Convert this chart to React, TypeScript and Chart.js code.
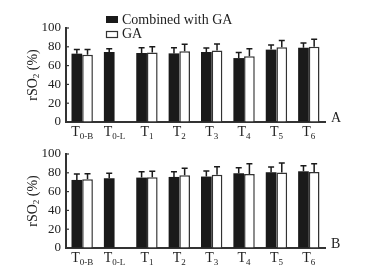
import React, { useEffect, useRef } from "react";
import { Chart, registerables } from "chart.js";

Chart.register(...registerables);

const baseLabels = ["T", "T", "T", "T", "T", "T", "T", "T"];
const subLabels = ["0-B", "0-L", "1", "2", "3", "4", "5", "6"];
const seriesNames = ["Combined with GA", "GA"];
const yTicks = [0, 20, 40, 60, 80, 100];

const aCombined = [72.7, 74.5, 73.4, 73, 74.5, 68, 77, 79];
const aCombinedSD = [4.3, 3.5, 5.6, 6, 4.2, 6, 5, 5];
const aGA = [71.6, null, 74, 75.3, 76, 70, 79.4, 80];
const aGASD = [5.4, null, 6, 7.5, 7, 8, 7.4, 8];

const bCombined = [72.4, 74.2, 74.9, 75.6, 76, 79.5, 80.6, 81.6];
const bCombinedSD = [6.4, 5.3, 6.1, 5.6, 6, 6, 5.6, 6];
const bGA = [73.2, null, 75.3, 77.4, 78, 78.8, 80.2, 80.9];
const bGASD = [5.8, null, 6.3, 7.4, 8.5, 10.9, 10.3, 8.8];

const SERIF = "'Liberation Serif', 'Times New Roman', serif";

type PanelProps = {
  letter: string;
  combined: (number | null)[];
  combinedSD: (number | null)[];
  ga: (number | null)[];
  gaSD: (number | null)[];
  showLegend: boolean;
  top: number;
  height: number;
  padTop: number;
  xHeight: number;
};

function Panel(props: PanelProps) {
  const ref = useRef<HTMLCanvasElement | null>(null);
  useEffect(() => {
    const canvas = ref.current;
    if (!canvas) return;
    const sds = [props.combinedSD, props.gaSD];

    const errPlugin = {
      id: "errbars",
      afterDatasetsDraw(chart: any) {
        const ctx = chart.ctx;
        const ys = chart.scales.y;
        ctx.save();
        ctx.strokeStyle = "#1a1a1a";
        ctx.lineWidth = 1.5;
        chart.data.datasets.forEach((ds: any, i: number) => {
          const meta = chart.getDatasetMeta(i);
          meta.data.forEach((bar: any, j: number) => {
            const v = ds.data[j];
            const sd = sds[i][j];
            if (v == null || sd == null) return;
            const yTop = ys.getPixelForValue(v + sd);
            const x = bar.x;
            ctx.beginPath();
            ctx.moveTo(x, bar.y);
            ctx.lineTo(x, yTop);
            ctx.moveTo(x - 3, yTop);
            ctx.lineTo(x + 3, yTop);
            ctx.stroke();
          });
        });
        ctx.restore();
      },
    };

    const overlay = {
      id: "overlay",
      afterDraw(chart: any) {
        const ctx = chart.ctx;
        const area = chart.chartArea;
        const ys = chart.scales.y;
        const xs = chart.scales.x;
        ctx.save();
        // inward ticks
        ctx.strokeStyle = "#333";
        ctx.lineWidth = 1.2;
        yTicks.forEach((t) => {
          const y = ys.getPixelForValue(t);
          ctx.beginPath();
          ctx.moveTo(area.left, y);
          ctx.lineTo(area.left + 3, y);
          ctx.stroke();
        });
        // x labels with subscripts
        ctx.fillStyle = "#222";
        ctx.textBaseline = "alphabetic";
        baseLabels.forEach((b, i) => {
          const cx = xs.getPixelForValue(i);
          ctx.font = `14px ${SERIF}`;
          const wb = ctx.measureText(b).width;
          ctx.font = `9px ${SERIF}`;
          const ws = ctx.measureText(subLabels[i]).width;
          const start = cx - (wb + ws) / 2;
          const base = area.bottom + 14;
          ctx.font = `14px ${SERIF}`;
          ctx.textAlign = "left";
          ctx.fillText(b, start, base);
          ctx.font = `9px ${SERIF}`;
          ctx.fillText(subLabels[i], start + wb, base + 3);
        });
        // y title
        ctx.save();
        const ty = (area.top + area.bottom) / 2;
        ctx.translate(33, ty);
        ctx.rotate(-Math.PI / 2);
        ctx.font = `14px ${SERIF}`;
        const p1 = "rSO";
        const p3 = " (%)";
        const w1 = ctx.measureText(p1).width;
        const w3 = ctx.measureText(p3).width;
        ctx.font = `9px ${SERIF}`;
        const w2 = ctx.measureText("2").width;
        let sx = -(w1 + w2 + w3) / 2;
        ctx.textAlign = "left";
        ctx.textBaseline = "middle";
        ctx.font = `14px ${SERIF}`;
        ctx.fillText(p1, sx, 0);
        sx += w1;
        ctx.font = `9px ${SERIF}`;
        ctx.fillText("2", sx, 4);
        sx += w2;
        ctx.font = `14px ${SERIF}`;
        ctx.fillText(p3, sx, 0);
        ctx.restore();
        // panel letter
        ctx.font = `14px ${SERIF}`;
        ctx.textAlign = "left";
        ctx.textBaseline = "alphabetic";
        ctx.fillText(props.letter, area.right + 6, area.bottom);
        // legend
        if (props.showLegend) {
          ctx.fillStyle = "#1a1a1a";
          ctx.fillRect(106, 16, 12, 7);
          ctx.fillStyle = "#fff";
          ctx.fillRect(106, 31, 12, 7);
          ctx.strokeStyle = "#333";
          ctx.lineWidth = 1.2;
          ctx.strokeRect(106.5, 31.5, 11, 6);
          ctx.fillStyle = "#222";
          ctx.font = `14px ${SERIF}`;
          ctx.fillText(seriesNames[0], 122, 24);
          ctx.fillText(seriesNames[1], 122, 38);
        }
        ctx.restore();
      },
    };

    const chart = new Chart(canvas, {
      type: "bar",
      data: {
        labels: baseLabels.map((b, i) => b + subLabels[i]),
        datasets: [
          {
            label: seriesNames[0],
            data: props.combined,
            backgroundColor: "#1a1a1a",
            borderColor: "#1a1a1a",
            borderWidth: 0,
          },
          {
            label: seriesNames[1],
            data: props.ga,
            backgroundColor: "#ffffff",
            borderColor: "#333",
            borderWidth: 1.5,
          },
        ],
      },
      options: {
        responsive: false,
        animation: false,
        events: [],
        layout: { padding: { top: props.padTop, right: 42, left: 0, bottom: 0 } },
        plugins: {
          legend: { display: false },
          tooltip: { enabled: false },
          title: { display: false },
        },
        datasets: {
          bar: { categoryPercentage: 0.66, barPercentage: 1.0 },
        },
        scales: {
          x: {
            grid: { display: true, drawOnChartArea: false, drawTicks: false },
            border: { display: true, color: "#333", width: 2 },
            ticks: { display: false },
            afterFit: (s: any) => {
              s.height = props.xHeight;
            },
          },
          y: {
            min: 0,
            max: 100,
            grid: { display: true, drawOnChartArea: false, drawTicks: false },
            border: { display: true, color: "#333", width: 2 },
            ticks: {
              stepSize: 20,
              padding: 5,
              color: "#222",
              font: { family: SERIF, size: 13 },
            },
            afterFit: (s: any) => {
              s.width = 66;
            },
          },
        },
      } as any,
      plugins: [errPlugin, overlay],
    });
    return () => chart.destroy();
  }, []);
  return (
    <canvas
      ref={ref}
      width={367}
      height={props.height}
      style={{
        position: "absolute",
        left: 0,
        top: props.top,
        width: 367,
        height: props.height,
      }}
    />
  );
}

export default function App() {
  return (
    <div
      style={{
        position: "absolute",
        left: 0,
        top: 0,
        width: 367,
        height: 269,
        background: "#fff",
        overflow: "hidden",
      }}
    >
      <Panel
        letter="A"
        combined={aCombined}
        combinedSD={aCombinedSD}
        ga={aGA}
        gaSD={aGASD}
        showLegend={true}
        top={0}
        height={140}
        padTop={28}
        xHeight={18}
      />
      <Panel
        letter="B"
        combined={bCombined}
        combinedSD={bCombinedSD}
        ga={bGA}
        gaSD={bGASD}
        showLegend={false}
        top={130}
        height={139}
        padTop={24}
        xHeight={21}
      />
    </div>
  );
}
